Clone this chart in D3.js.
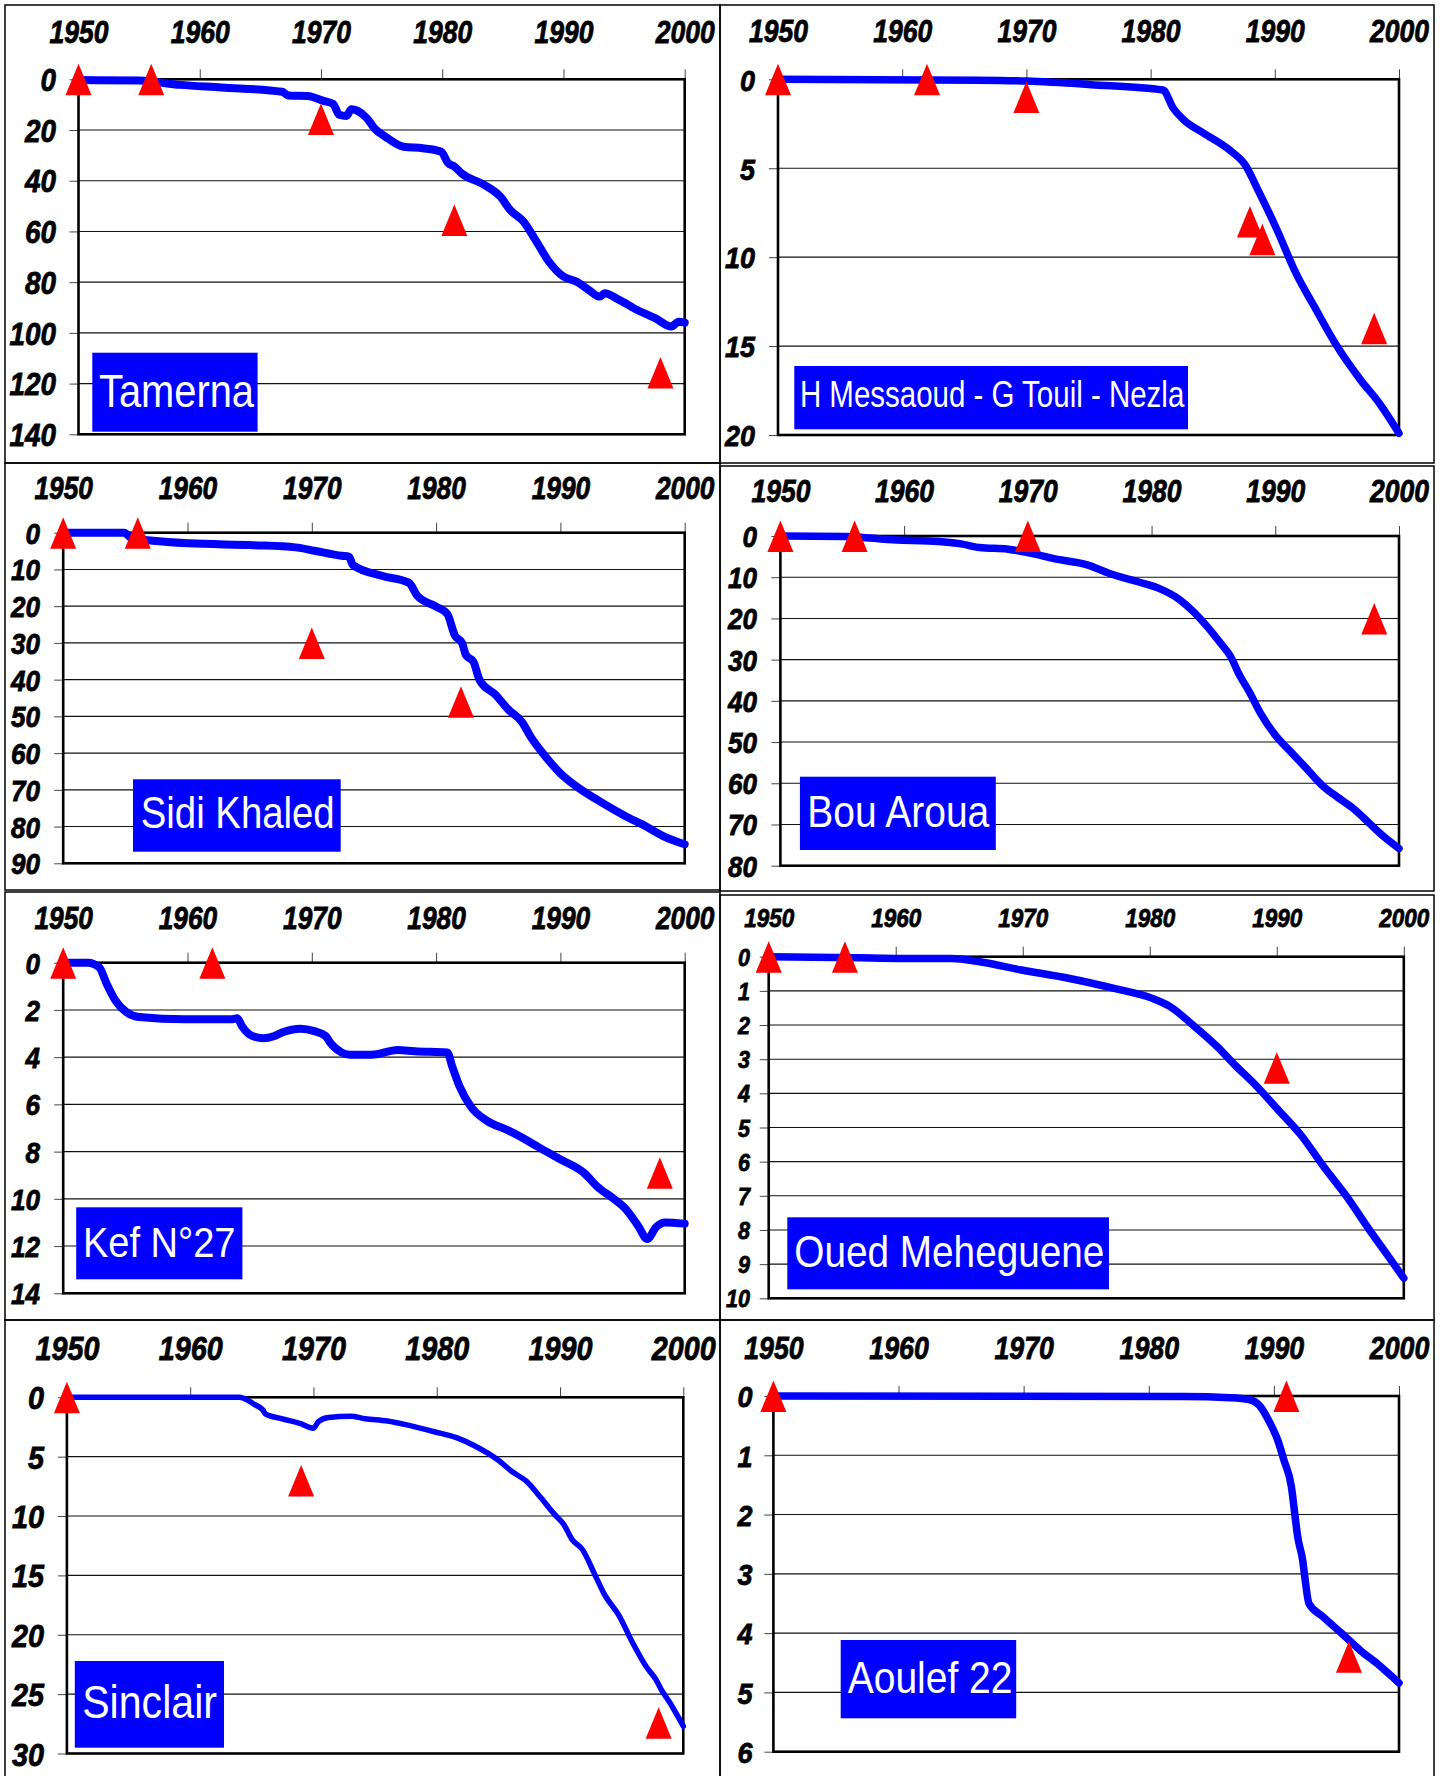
<!DOCTYPE html>
<html>
<head>
<meta charset="utf-8">
<script src="https://cdn.jsdelivr.net/npm/d3@7"></script>
<style>
  html, body { margin: 0; padding: 0; background: #fff; }
  svg { display: block; }
  .tick text { font-family: "Liberation Sans", Arial, sans-serif; font-weight: bold; font-style: italic; fill: #000; stroke: #000; stroke-width: 0.8px; }
</style>
</head>
<body>
<svg id="chart" width="1449" height="1776"></svg>
<script>
// ---------------- DATA ----------------
const xTickYears = [1950, 1960, 1970, 1980, 1990, 2000];
const stationNames = ["Tamerna", "H Messaoud - G Touil - Nezla", "Sidi Khaled", "Bou Aroua",
                      "Kef N°27", "Oued Meheguene", "Sinclair", "Aoulef 22"];
const depthMax  = [140, 20, 90, 80, 14, 10, 30, 6];
const depthStep = [20, 5, 10, 10, 2, 1, 5, 1];

// simulated drawdown curves: [year, depth]
const tamernaCurve = [[1950,0.3],[1955,0.5],[1958.4,2.2],[1961.8,3.2],[1966.8,4.9],[1967.3,6.4],[1968.9,6.6],
  [1970.2,8.5],[1971,9.7],[1971.5,14],[1972.1,14.5],[1972.5,11.8],[1973,12.4],[1973.8,15.4],[1974.4,19.3],
  [1975.3,22.6],[1976.8,26.6],[1978.4,27.2],[1979.9,28.5],[1980.5,33.1],[1981,34.4],[1981.6,37.1],
  [1983.5,41.7],[1984.8,46.3],[1985.6,51.5],[1986.7,56.1],[1987.7,63.4],[1988.8,71.9],[1990,77.8],
  [1991.1,79.8],[1992.1,83.1],[1993,85.7],[1993.4,84.4],[1994.6,87],[1996.1,91],[1997.6,94.3],
  [1998.9,97.5],[1999.5,95.6],[2000,96]];
const messaoudCurve = [[1950,0],[1966,0.05],[1970,0.1],[1975.2,0.3],[1981,0.6],[1981.8,1.6],[1982.7,2.3],
  [1984.2,3.0],[1986.4,4.0],[1987.6,4.8],[1988.7,6.3],[1990.2,8.5],[1991.7,10.9],[1993.2,12.8],[1995,15],
  [1996.9,16.9],[1998.4,18.2],[2000,19.9]];
const sidiKhaledCurve = [[1950,0],[1954.9,0],[1955.5,1.5],[1957.2,2.2],[1960.1,2.9],[1965.3,3.4],[1968.7,4.0],
  [1970.2,4.9],[1972.4,6.3],[1973,6.5],[1973.3,8.8],[1975.7,11.8],[1977.8,13.6],[1978.5,17.2],[1980,20.1],
  [1980.9,22.1],[1981.5,27.9],[1982.1,30.1],[1982.4,33.3],[1983,35.1],[1983.5,40.1],[1984.8,44.2],
  [1985.8,48.1],[1986.9,51.5],[1987.6,55.5],[1988.7,60.5],[1990,65.5],[1991.3,69.1],[1993.2,73.2],
  [1995.1,76.9],[1996.9,80],[1998.4,82.8],[2000,84.8]];
const bouArouaCurve = [[1950,0],[1955.3,0.1],[1959.4,1.0],[1962,1.2],[1964.6,1.9],[1966.1,2.8],[1968.4,3.2],
  [1970.3,4.2],[1972.1,5.5],[1974.8,7.0],[1976.6,9.1],[1978.9,11.1],[1980.6,12.7],[1982.3,15.5],
  [1983.4,18.4],[1984.5,22],[1985.6,26.1],[1986.4,29.3],[1987.1,33.7],[1987.9,37.8],[1988.8,43],
  [1990.1,48.7],[1991.1,51.9],[1992.4,56],[1993.9,60.8],[1995,63.3],[1996.3,66.1],[1997.6,69.7],
  [1998.8,73],[2000,75.8]];
const kefCurve = [[1950,0],[1952,0],[1952.9,0.2],[1953.5,0.9],[1954.2,1.6],[1955.1,2.1],[1956.1,2.3],
  [1959.8,2.4],[1963.5,2.4],[1964,2.35],[1964.4,2.7],[1965.2,3.1],[1966.1,3.2],[1967,3.1],[1967.6,2.96],
  [1969.1,2.8],[1970.2,2.9],[1971.1,3.1],[1971.5,3.4],[1972.4,3.8],[1973.1,3.9],[1974.8,3.9],[1976.9,3.7],
  [1978.3,3.75],[1980.9,3.8],[1981.3,4.4],[1981.9,5.25],[1982.8,6.1],[1984.1,6.7],[1985.8,7.1],
  [1986.9,7.4],[1988.2,7.8],[1989.9,8.3],[1991.9,8.9],[1993,9.5],[1994.3,10],[1995.2,10.4],[1996.2,11.1],
  [1997,11.7],[1997.7,11.2],[1998.4,11.0],[2000,11.05]];
const ouedCurve = [[1950,0],[1955.3,0.02],[1960.1,0.05],[1964.4,0.05],[1966.6,0.15],[1969.9,0.39],
  [1973.6,0.63],[1977.2,0.93],[1980.2,1.22],[1981.6,1.46],[1983.4,2.0],[1985.3,2.63],[1986.7,3.17],
  [1988.2,3.71],[1990,4.44],[1991.9,5.22],[1993.7,6.15],[1995.5,7.02],[1997.3,8.0],[1998.8,8.78],[2000,9.41]];
const sinclairCurve = [[1950,0],[1964,0],[1964.6,0.2],[1965.2,0.6],[1965.9,1.07],[1966.1,1.4],[1967.4,1.8],
  [1968.9,2.2],[1970,2.6],[1970.4,2.05],[1971.2,1.7],[1973,1.6],[1974.2,1.8],[1976,2.0],[1977.5,2.3],
  [1979.8,2.9],[1981.6,3.4],[1983.1,4.1],[1985,5.3],[1986.1,6.25],[1987.3,7.1],[1988.4,8.4],[1989.5,9.8],
  [1990.3,10.7],[1991,12],[1991.8,12.8],[1992.9,15.1],[1993.6,16.6],[1994.8,18.4],[1995.9,20.7],
  [1997,22.7],[1997.8,23.8],[1998.2,24.6],[1998.9,25.7],[2000,27.7]];
const aoulefCurve = [[1950,0],[1982.8,0.01],[1986.5,0.03],[1988,0.06],[1988.8,0.15],[1989.7,0.46],
  [1990.3,0.74],[1990.8,1.08],[1991.4,1.53],[1991.7,2.04],[1991.9,2.37],[1992.3,2.77],[1992.5,3.1],
  [1992.8,3.5],[1993.9,3.72],[1995.4,4.0],[1996.9,4.29],[1998.4,4.54],[2000,4.84]];

// observed depths (triangles): [year, depth]
const tamernaObs    = [[1950,0],[1956,0],[1970,15.7],[1981,55.5],[1998,115.6]];
const messaoudObs   = [[1950,0],[1962,0],[1970,1.0],[1988,8.0],[1989,9.0],[1998,14.0]];
const sidiKhaledObs = [[1950,0],[1956,0],[1970,30],[1982,46]];
const bouArouaObs   = [[1950,0],[1956,0],[1970,0],[1998,20]];
const kefObs        = [[1950,0],[1962,0],[1998,8.9]];
const ouedObs       = [[1950,0],[1956,0],[1990,3.25]];
const sinclairObs   = [[1950,0],[1969,7],[1998,27.4]];
const aoulefObs     = [[1950,0],[1991,0],[1996,4.4]];

const curves = [tamernaCurve, messaoudCurve, sidiKhaledCurve, bouArouaCurve, kefCurve, ouedCurve, sinclairCurve, aoulefCurve];
const observations = [tamernaObs, messaoudObs, sidiKhaledObs, bouArouaObs, kefObs, ouedObs, sinclairObs, aoulefObs];

// ---------------- LAYOUT (pixels) ----------------
const plotBoxes = [
  {L:78.5, R:684.7, T:79.3, B:434.3, xlabY:32, ylabR:56, xfs:31, xw:59, yfs:31, lw:8},
  {L:778, R:1399, T:79.3, B:435, xlabY:31, ylabR:755, xfs:31, xw:59, yfs:30, lw:7.5},
  {L:63.2, R:684.7, T:532.7, B:863.3, xlabY:488.3, ylabR:40, xfs:31, xw:58.5, yfs:29, lw:8},
  {L:780.4, R:1399, T:536, B:865.7, xlabY:490.7, ylabR:757, xfs:31, xw:59, yfs:29, lw:7.5},
  {L:63.2, R:684.7, T:962.7, B:1293.3, xlabY:918.3, ylabR:40, xfs:31, xw:58.5, yfs:29, lw:8},
  {L:768.7, R:1403.8, T:956.7, B:1298.3, xlabY:917.3, ylabR:750, xfs:26, xw:50, yfs:24, lw:7.5},
  {L:66.9, R:683.3, T:1397.3, B:1753.5, xlabY:1347.3, ylabR:44, xfs:34, xw:64, yfs:32, lw:5.5},
  {L:773.4, R:1399, T:1396, B:1751.7, xlabY:1347.3, ylabR:752.5, xfs:32, xw:59.5, yfs:30, lw:7.5}
];
const labelBoxes = [
  {x0:92.3, x1:257.6, y0:352.7, y1:431.7, tx0:99, tx1:254, base:406.7, fs:47},
  {x0:794.3, x1:1188, y0:366, y1:429.3, tx0:799.9, tx1:1184.3, base:407.3, fs:37},
  {x0:133, x1:340.7, y0:779.3, y1:851.7, tx0:140.8, tx1:334.7, base:828.3, fs:45},
  {x0:799.9, x1:995.8, y0:776.7, y1:850, tx0:807.3, tx1:989.3, base:826.7, fs:45},
  {x0:76.2, x1:242.4, y0:1207.3, y1:1279.3, tx0:83, tx1:235.5, base:1256.7, fs:43},
  {x0:787.3, x1:1109, y0:1217.3, y1:1289.3, tx0:794.3, tx1:1104.4, base:1267.3, fs:44},
  {x0:74.8, x1:224, y0:1661, y1:1747.7, tx0:82.2, tx1:217, base:1718.3, fs:46},
  {x0:840.7, x1:1016.2, y0:1640, y1:1718.3, tx0:847.7, tx1:1012.5, base:1692.7, fs:44}
];
const cells = [
  [5,5,715,458],[720,5,714,458],
  [5,463,715,427],[720,466,714,425],
  [5,892,715,428],[720,895,714,425],
  [5,1320,715,470],[720,1320,714,470]
];

// ---------------- DRAW ----------------
const svg = d3.select("#chart");
svg.append("rect").attr("width",1449).attr("height",1776).attr("fill","#fff");

svg.append("g").selectAll("rect").data(cells).join("rect")
  .attr("x", d => d[0]).attr("y", d => d[1]).attr("width", d => d[2]).attr("height", d => d[3])
  .attr("fill", "none").attr("stroke", "#000").attr("stroke-width", 1.5);

const triPath = "M0,-15.5 L13,16 L-13,16 Z";

stationNames.forEach((name, i) => {
  const p = plotBoxes[i];
  const x = d3.scaleLinear().domain([1950, 2000]).range([p.L, p.R]);
  const y = d3.scaleLinear().domain([0, depthMax[i]]).range([p.T, p.B]);
  const yTicks = d3.range(0, depthMax[i] + depthStep[i] / 2, depthStep[i]);
  const g = svg.append("g");

  // grid
  g.append("g").selectAll("line").data(yTicks).join("line")
    .attr("x1", p.L).attr("x2", p.R).attr("y1", d => y(d)).attr("y2", d => y(d))
    .attr("stroke", "#111").attr("stroke-width", 1.1);

  // y axis
  const ya = g.append("g").attr("transform", `translate(${p.L},0)`)
    .call(d3.axisLeft(y).tickValues(yTicks).tickFormat(d3.format("d")).tickSize(9).tickPadding(p.L - p.ylabR - 9));
  ya.select(".domain").remove();
  ya.selectAll(".tick line").attr("stroke", "#444").attr("stroke-width", 1);
  ya.selectAll(".tick text").attr("font-size", p.yfs).attr("dy", "0.36em")
    .attr("textLength", d => String(d).length * 0.5 * p.yfs).attr("lengthAdjust", "spacingAndGlyphs");

  // x axis (top)
  const xa = g.append("g").attr("transform", `translate(0,${p.T})`)
    .call(d3.axisTop(x).tickValues(xTickYears).tickFormat(d3.format("d")).tickSize(10));
  xa.select(".domain").remove();
  xa.selectAll(".tick line").attr("stroke", "#444").attr("stroke-width", 1);
  xa.selectAll(".tick text").attr("font-size", p.xfs).attr("dy", 0)
    .attr("y", p.xlabY + 0.36 * p.xfs - p.T)
    .attr("textLength", p.xw).attr("lengthAdjust", "spacingAndGlyphs");

  // frame
  g.append("rect").attr("x", p.L).attr("y", p.T).attr("width", p.R - p.L).attr("height", p.B - p.T)
    .attr("fill", "none").attr("stroke", "#000").attr("stroke-width", 2.6);

  // label box
  const lb = labelBoxes[i];
  g.append("rect").attr("x", lb.x0).attr("y", lb.y0).attr("width", lb.x1 - lb.x0).attr("height", lb.y1 - lb.y0)
    .attr("fill", "#0000ff");
  g.append("text").attr("x", lb.tx0).attr("y", lb.base)
    .attr("font-family", "'Liberation Sans', Arial, sans-serif").attr("font-size", lb.fs)
    .attr("fill", "#fff").attr("textLength", lb.tx1 - lb.tx0).attr("lengthAdjust", "spacingAndGlyphs")
    .text(name);

  // curve
  const line = d3.line().x(d => x(d[0])).y(d => y(d[1])).curve(d3.curveMonotoneX);
  g.append("path").datum(curves[i]).attr("d", line)
    .attr("fill", "none").attr("stroke", "#0000ff").attr("stroke-width", p.lw)
    .attr("stroke-linejoin", "round").attr("stroke-linecap", "round");

  // observations
  g.append("g").selectAll("path").data(observations[i]).join("path")
    .attr("d", triPath)
    .attr("transform", d => `translate(${x(d[0])},${y(d[1])})`)
    .attr("fill", "#ff0000");
});
</script>
</body>
</html>
